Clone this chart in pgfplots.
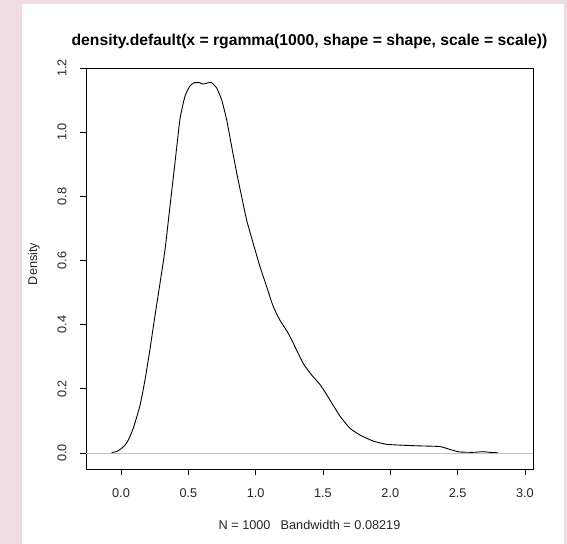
\documentclass[border=0pt]{standalone}
\usepackage{fontspec}
\setmainfont{Liberation Sans}
\usepackage{pgfplots}
\pgfplotsset{compat=1.18}
\definecolor{bgpink}{HTML}{EFDDE3}
\definecolor{zerogray}{HTML}{BEBEBE}
\begin{document}
\begin{tikzpicture}[x=1bp,y=1bp]
\fill[bgpink] (0,0) rectangle (567,544);
\fill[white] (22,0) rectangle (564,540);
\begin{axis}[
  at={(86bp,75bp)}, anchor=south west,
  scale only axis, width=447bp, height=401bp,
  xmin=-0.26, xmax=3.06, ymin=-0.05, ymax=1.2,
  axis line style={black, line width=0.8bp},
  tick style={black, line width=0.8bp},
  tick align=outside, major tick length=6bp,
  xtick pos=bottom, ytick pos=left,
  xtick={0,0.5,1,1.5,2,2.5,3},
  xticklabels={0.0,0.5,1.0,1.5,2.0,2.5,3.0},
  ytick={0,0.2,0.4,0.6,0.8,1.0,1.2},
  yticklabels={0.0,0.2,0.4,0.6,0.8,1.0,1.2},
  /pgf/number format/assume math mode=true,
  tick label style={font=\fontsize{12.7bp}{14bp}\selectfont, text=black!85},
  xticklabel shift=10bp,
  yticklabel style={rotate=90, anchor=south},
  yticklabel shift=10bp,
  clip=true,
]
\addplot[black, line width=0.9bp, smooth, tension=0.3] coordinates {
(-0.069,0.001) (-0.03,0.005) (-0.007,0.011) (0.025,0.022)
(0.054,0.040) (0.092,0.078) (0.141,0.148) (0.178,0.227) (0.215,0.323) (0.252,0.427)
(0.290,0.530) (0.327,0.634) (0.364,0.770) (0.401,0.905) (0.438,1.041) (0.475,1.112)
(0.512,1.144) (0.542,1.154) (0.586,1.154) (0.605,1.150) (0.624,1.151) (0.650,1.154)
(0.673,1.154) (0.710,1.138) (0.748,1.100) (0.785,1.038) (0.822,0.955) (0.860,0.871)
(0.896,0.799) (0.933,0.726) (0.982,0.653) (1.032,0.581) (1.082,0.518) (1.131,0.456)
(1.180,0.414) (1.242,0.373) (1.304,0.321) (1.353,0.279) (1.416,0.243) (1.477,0.214)
(1.515,0.190) (1.552,0.165) (1.626,0.115) (1.700,0.077) (1.774,0.056) (1.873,0.037)
(1.972,0.027) (2.096,0.024) (2.220,0.022) (2.368,0.020) (2.442,0.011) (2.517,0.003)
(2.615,0.002) (2.690,0.004) (2.739,0.002) (2.801,0.0005)
};
\addplot[zerogray, line width=0.7bp] coordinates {(-0.26,0) (3.06,0)};
\end{axis}
\node[anchor=base, font=\fontsize{15.7bp}{18bp}\selectfont\bfseries] at (309.5,498) {density.default(x = rgamma(1000, shape = shape, scale = scale))};
\node[anchor=base, font=\fontsize{12.7bp}{14bp}\selectfont, text=black!85] at (309.5,14) {N = 1000\hspace{0.8em}Bandwidth = 0.08219};
\node[anchor=base, rotate=90, font=\fontsize{12.7bp}{14bp}\selectfont, text=black!85] at (37,280) {Density};
\pgfresetboundingbox
\useasboundingbox (0,0) rectangle (567,544);
\end{tikzpicture}
\end{document}
